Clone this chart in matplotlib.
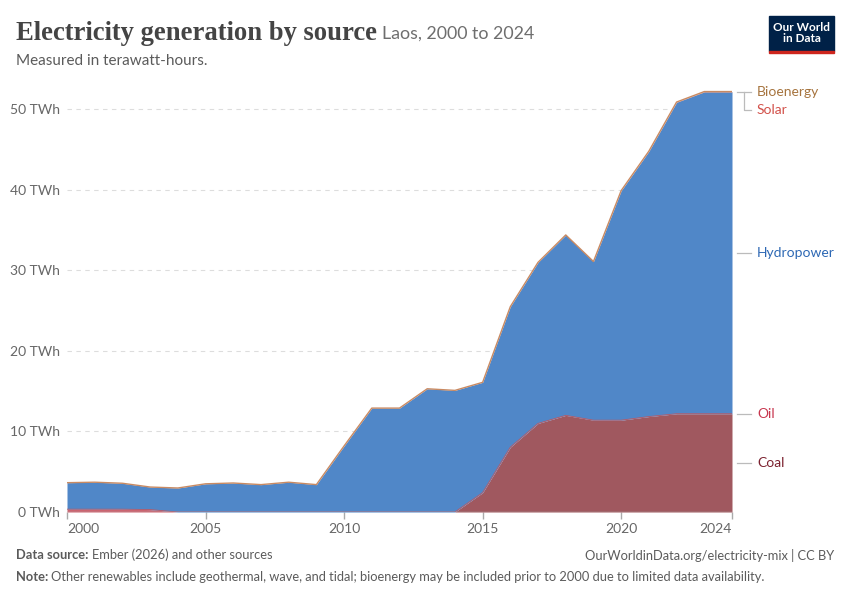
import numpy as np
import matplotlib.pyplot as plt
from matplotlib.patches import Rectangle

# Laos electricity generation by source, TWh
years = list(range(2000, 2025))
total = [3.64, 3.70, 3.57, 3.10, 2.98, 3.50, 3.60, 3.40, 3.70, 3.40,
         8.20, 12.90, 12.90, 15.30, 15.10, 16.10, 25.50, 31.00, 34.40, 31.10,
         39.90, 44.80, 50.90, 52.20, 52.20]
coal = [0, 0, 0, 0, 0, 0, 0, 0, 0, 0,
        0, 0, 0, 0, 0, 2.40, 8.05, 11.00, 12.00, 11.40,
        11.40, 11.85, 12.20, 12.20, 12.20]
oil = [0.35, 0.35, 0.35, 0.30, 0, 0, 0, 0, 0, 0,
       0, 0, 0, 0, 0, 0, 0, 0, 0, 0,
       0, 0, 0, 0, 0]
solar = [0] * 19 + [0.01, 0.01, 0.02, 0.03, 0.04, 0.04]
bioenergy = [0] * 25
hydro = [t - c - o - s for t, c, o, s in zip(total, coal, oil, solar)]

series = ["Coal", "Oil", "Hydropower", "Solar", "Bioenergy"]
fill_colors = ["#A0585F", "#CC6470", "#5087C8", "#D9705E", "#C4875A"]
label_colors = ["#7C2230", "#C8374F", "#2D68B4", "#D2514A", "#A6743E"]

plt.rcParams['font.family'] = ['Lato', 'DejaVu Sans']

fig = plt.figure(figsize=(8.5, 6), dpi=100)
ax = fig.add_axes([67 / 850, 88 / 600, 665 / 850, 443 / 600])

x = np.array(years)
layers = [np.array(coal), np.array(oil), np.array(hydro), np.array(solar), np.array(bioenergy)]
base = np.zeros(len(years))
tops = []
for vals, col in zip(layers, fill_colors):
    top = base + vals
    ax.fill_between(x, base, top, color=col, lw=0, zorder=2)
    tops.append(top)
    base = top
ax.plot(x, tops[-1], color="#C98A62", lw=1.0, zorder=3)
ax.plot(x, tops[1], color="#B85A66", lw=0.6, zorder=3)

ax.set_xlim(2000, 2024)
ax.set_ylim(0, 55)
for v in [10, 20, 30, 40, 50]:
    ax.axhline(v, color="#dddddd", lw=0.8, ls=(0, (4, 4)), zorder=1)
ax.axhline(0, color="#aaaaaa", lw=1, zorder=4)

for s in ax.spines.values():
    s.set_visible(False)
ax.set_yticks([0, 10, 20, 30, 40, 50])
ax.set_yticklabels([f"{v} TWh" for v in [0, 10, 20, 30, 40, 50]])
ax.tick_params(axis='y', length=0, pad=5, labelsize=10, labelcolor="#666666")
ax.set_xticks([2000, 2005, 2010, 2015, 2020, 2024])
ax.set_xticklabels(["2000", "2005", "2010", "2015", "2020", "2024"])
ax.tick_params(axis='x', length=5, width=1, color="#aaaaaa", pad=3,
               labelsize=10, labelcolor="#666666")
xt = ax.get_xticklabels()
xt[0].set_ha("left")
xt[-1].set_ha("right")

# right-hand labels
last = len(years) - 1
mid = lambda i: (tops[i][last] + (tops[i - 1][last] if i > 0 else 0)) / 2
label_y = {
    "Coal": mid(0),
    "Oil": tops[1][last],
    "Hydropower": mid(2),
    "Bioenergy": tops[4][last] - 0.1,
    "Solar": tops[4][last] - 2.35,
}
for name, col in zip(series, label_colors):
    y = label_y[name]
    ax.text(2024 + 25 / 27.7, y, name, color=col, fontsize=10, va="center",
            ha="left", clip_on=False)
    if name in ("Coal", "Oil", "Hydropower"):
        ax.plot([2024 + 5 / 27.7, 2024 + 19 / 27.7], [y, y], color="#bbbbbb",
                lw=0.9, clip_on=False)
# bracket for bioenergy / solar
yb, ys = label_y["Bioenergy"], label_y["Solar"]
xa, xb, xc = 2024 + 5 / 27.7, 2024 + 12 / 27.7, 2024 + 19 / 27.7
ax.plot([xa, xc], [yb, yb], color="#bbbbbb", lw=0.9, clip_on=False)
ax.plot([xb, xb, xc], [yb, ys, ys], color="#bbbbbb", lw=0.9, clip_on=False)

renderer = fig.canvas.get_renderer()


def text_after(t, gap_px):
    bb = t.get_window_extent(renderer=renderer)
    return (bb.x1 + gap_px) / 850


# title block
title = fig.text(16 / 850, 1 - 33 / 600, "Electricity generation by source", fontsize=19.2,
                 fontweight="bold", family="Liberation Serif", color="#444444", va="center")
fig.text(text_after(title, 5), 1 - 34 / 600, "Laos, 2000 to 2024", fontsize=12.8,
         color="#6e6e6e", va="center")
fig.text(16 / 850, 1 - 61 / 600, "Measured in terawatt-hours.", fontsize=11,
         color="#5b5b5b", va="center")

# logo
logo = Rectangle((769 / 850, 1 - 51 / 600), 65 / 850, 35 / 600,
                 transform=fig.transFigure, color="#002147")
fig.patches.append(logo)
bar = Rectangle((769 / 850, 1 - 53 / 600), 65 / 850, 2.5 / 600,
                transform=fig.transFigure, color="#CE261E")
fig.patches.append(bar)
fig.text(801.5 / 850, 1 - 33 / 600, "Our World\nin Data", fontsize=8.5,
         color="white", ha="center", va="center", linespacing=1.0,
         fontweight="bold", family="Lato")

# footer
fs = 9.3
src = fig.text(16 / 850, 1 - 555 / 600, "Data source:", fontsize=fs, fontweight="bold",
               color="#5b5b5b", va="center")
fig.text(text_after(src, 3), 1 - 555 / 600, "Ember (2026) and other sources", fontsize=fs,
         color="#5b5b5b", va="center")
fig.text(834 / 850, 1 - 555 / 600, "OurWorldinData.org/electricity-mix | CC BY",
         fontsize=fs, color="#5b5b5b", va="center", ha="right")
note = fig.text(16 / 850, 1 - 577 / 600, "Note:", fontsize=fs, fontweight="bold",
                color="#5b5b5b", va="center")
fig.text(text_after(note, 3), 1 - 577 / 600,
         "Other renewables include geothermal, wave, and tidal; bioenergy may be "
         "included prior to 2000 due to limited data availability.",
         fontsize=fs, color="#5b5b5b", va="center")

fig.savefig("out.png", dpi=100)
